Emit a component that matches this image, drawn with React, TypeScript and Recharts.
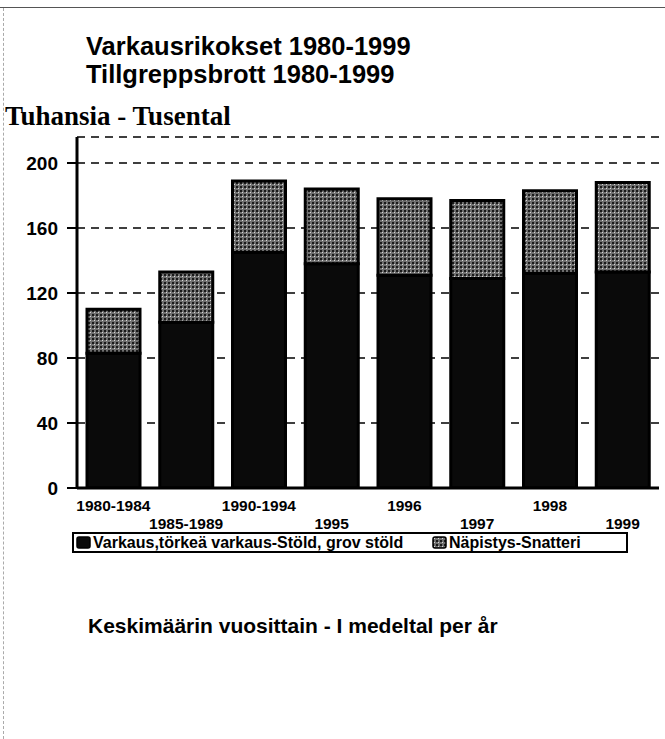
import React from "react";
import { BarChart, Bar, XAxis, YAxis, CartesianGrid } from "recharts";

const periods = ["1980-1984", "1985-1989", "1990-1994", "1995", "1996", "1997", "1998", "1999"];
const stold = [83, 102, 145, 138, 131, 129, 132, 133];
const snatteri = [27, 31, 44, 46, 47, 48, 51, 55];
const yTicks = [0, 40, 80, 120, 160, 200];

const data = periods.map((p, i) => ({ period: p, stold: stold[i], snatteri: snatteri[i] }));

const SANS = "'Liberation Sans', Arial, sans-serif";
const SERIF = "'Liberation Serif', 'Times New Roman', serif";

// labels alternate between two rows
function XTick({ x, y, payload, index }: any) {
  const dy = index % 2 === 0 ? 23 : 41;
  return (
    <text x={x} y={y + dy} textAnchor="middle" fontFamily={SANS} fontWeight="bold" fontSize={15.5} fill="#000">
      {payload.value}
    </text>
  );
}

function Swatch({ fill }: { fill: string }) {
  return (
    <svg width={15} height={13} style={{ verticalAlign: "-1px", marginRight: 2 }}>
      <rect x={1} y={1} width={13} height={11} rx={2} fill={fill} stroke="#000" strokeWidth={1.5} />
    </svg>
  );
}

export default function App() {
  return (
    <div style={{ position: "fixed", left: 0, top: 0, width: 665, height: 739, background: "#fff", overflow: "hidden" }}>
      {/* scan border */}
      <div style={{ position: "absolute", left: 0, top: 7, width: 665, borderTop: "1px solid #555" }} />
      <div style={{ position: "absolute", left: 3, top: 8, height: 731, borderLeft: "1px dashed #aaa" }} />

      <div
        style={{
          position: "absolute",
          left: 86,
          top: 32,
          fontFamily: SANS,
          fontWeight: "bold",
          fontSize: 25.5,
          lineHeight: "28px",
          color: "#000",
          whiteSpace: "nowrap",
        }}
      >
        <div>Varkausrikokset 1980-1999</div>
        <div>Tillgreppsbrott 1980-1999</div>
      </div>

      <div
        style={{
          position: "absolute",
          left: 5,
          top: 101,
          fontFamily: SERIF,
          fontWeight: "bold",
          fontSize: 27,
          lineHeight: "30px",
          color: "#000",
          whiteSpace: "nowrap",
        }}
      >
        Tuhansia - Tusental
      </div>

      <div style={{ position: "absolute", left: 0, top: 130 }}>
        <BarChart width={665} height={410} data={data} margin={{ top: 7, right: 6, left: 0, bottom: 0 }}>
          <defs>
            <pattern id="napistys" width={4} height={4} patternUnits="userSpaceOnUse">
              <rect width={4} height={4} fill="#6f6f6f" />
              <rect x={0} y={0} width={2} height={2} fill="#1a1a1a" />
              <rect x={2} y={2} width={1} height={1} fill="#d8d8d8" />
            </pattern>
          </defs>
          <CartesianGrid vertical={false} stroke="#000" strokeWidth={1.5} strokeDasharray="8 6" />
          <XAxis
            dataKey="period"
            interval={0}
            tickLine={false}
            tickSize={0}
            tickMargin={0}
            height={52}
            axisLine={{ stroke: "#000", strokeWidth: 3 }}
            tick={<XTick />}
          />
          <YAxis
            width={77}
            domain={[0, 216]}
            ticks={yTicks}
            allowDataOverflow
            tickSize={10}
            tickMargin={9}
            axisLine={{ stroke: "#000", strokeWidth: 3 }}
            tickLine={{ stroke: "#000", strokeWidth: 2 }}
            tick={{ fill: "#000", fontSize: 19, fontWeight: "bold", fontFamily: SANS }}
          />
          <Bar dataKey="stold" stackId="a" fill="#0a0a0a" stroke="#000" strokeWidth={3} barSize={53} isAnimationActive={false} />
          <Bar dataKey="snatteri" stackId="a" fill="url(#napistys)" stroke="#000" strokeWidth={3} barSize={53} isAnimationActive={false} />
        </BarChart>
      </div>

      <div
        style={{
          position: "absolute",
          left: 72,
          top: 532,
          width: 552,
          height: 17,
          border: "2px solid #000",
          fontFamily: SANS,
          fontWeight: "bold",
          fontSize: 16,
          lineHeight: "17px",
          color: "#000",
          whiteSpace: "nowrap",
        }}
      >
        <span style={{ position: "absolute", left: 2, top: 0 }}>
          <Swatch fill="#0a0a0a" />
          Varkaus,törkeä varkaus-Stöld, grov stöld
        </span>
        <span style={{ position: "absolute", left: 358, top: 0 }}>
          <Swatch fill="url(#napistys)" />
          Näpistys-Snatteri
        </span>
      </div>

      <div
        style={{
          position: "absolute",
          left: 88,
          top: 614,
          fontFamily: SANS,
          fontWeight: "bold",
          fontSize: 21,
          lineHeight: "24px",
          color: "#000",
          whiteSpace: "nowrap",
        }}
      >
        Keskimäärin vuosittain - I medeltal per år
      </div>
    </div>
  );
}
